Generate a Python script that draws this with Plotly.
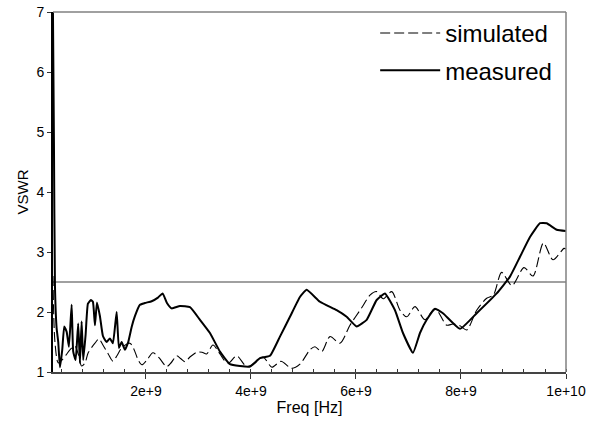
import plotly.graph_objects as go

# Frequencies in GHz (converted to Hz below)
meas_f_ghz = [0.229, 0.248, 0.267, 0.299, 0.33, 0.362, 0.406, 0.444, 0.49, 0.533,
              0.585, 0.615, 0.661, 0.71, 0.743, 0.775, 0.806, 0.851, 0.895, 0.952,
              0.99, 1.029, 1.067, 1.124, 1.181, 1.251, 1.314, 1.371, 1.442, 1.486,
              1.537, 1.6, 1.663, 1.728, 1.79, 1.886, 1.981, 2.109, 2.229, 2.318,
              2.4, 2.49, 2.648, 2.838, 3.029, 3.219, 3.41, 3.6, 3.79, 3.981,
              4.171, 4.362, 4.552, 4.743, 4.933, 5.061, 5.314, 5.632, 5.823, 6.013,
              6.204, 6.394, 6.552, 6.743, 6.895, 7.086, 7.219, 7.347, 7.505, 7.657,
              7.981, 8.299, 8.68, 8.933, 9.124, 9.314, 9.505, 9.632, 9.823, 10.0]
meas_vswr = [7.0, 4.8, 2.45, 1.73, 1.5, 1.08, 1.37, 1.76, 1.67, 1.42,
             2.12, 1.34, 1.2, 1.81, 1.15, 1.84, 1.2, 1.62, 2.14, 2.2,
             2.17, 1.78, 2.16, 1.93, 1.6, 1.5, 1.56, 1.48, 2.0, 1.4,
             1.5, 1.37, 1.5, 1.75, 1.93, 2.12, 2.15, 2.18, 2.24, 2.31,
             2.15, 2.06, 2.1, 2.08, 1.87, 1.65, 1.34, 1.13, 1.1, 1.09,
             1.23, 1.27, 1.59, 1.92, 2.25, 2.37, 2.17, 2.03, 1.92, 1.76,
             1.87, 2.2, 2.31, 2.03, 1.65, 1.32, 1.65, 1.87, 2.05, 1.98,
             1.72, 1.98, 2.31, 2.59, 2.92, 3.25, 3.48, 3.48, 3.37, 3.35]

sim_f_ghz = [0.229, 0.267, 0.33, 0.4, 0.476, 0.552, 0.648, 0.71, 0.775, 0.838,
             0.9, 1.029, 1.105, 1.181, 1.282, 1.371, 1.448, 1.537, 1.695, 1.771,
             1.853, 1.924, 2.019, 2.133, 2.248, 2.394, 2.476, 2.585, 2.667, 2.743,
             2.838, 2.966, 3.067, 3.156, 3.276, 3.41, 3.505, 3.581, 3.728, 3.918,
             4.076, 4.229, 4.4, 4.571, 4.775, 4.933, 5.124, 5.219, 5.347, 5.505,
             5.695, 5.886, 6.109, 6.267, 6.394, 6.52, 6.68, 6.838, 6.966, 7.124,
             7.314, 7.505, 7.728, 7.848, 7.981, 8.109, 8.299, 8.49, 8.615, 8.775,
             8.971, 9.2, 9.371, 9.571, 9.752, 9.962, 10.0]
sim_vswr = [2.6, 1.5, 1.15, 1.2, 1.28, 1.37, 1.43, 1.3, 1.1, 1.15,
            1.32, 1.48, 1.55, 1.45, 1.3, 1.18, 1.27, 1.4, 1.48, 1.38,
            1.2, 1.12, 1.2, 1.32, 1.24, 1.09, 1.15, 1.27, 1.22, 1.17,
            1.25, 1.33, 1.33, 1.3, 1.45, 1.3, 1.18, 1.15, 1.27, 1.09,
            1.15, 1.25, 1.08, 1.18, 1.06, 1.13, 1.37, 1.42, 1.34, 1.59,
            1.48, 1.78, 2.07, 2.28, 2.34, 2.22, 2.34, 2.03, 1.92, 2.09,
            1.87, 2.06, 1.78, 1.8, 1.77, 1.7, 2.03, 2.23, 2.28, 2.66,
            2.44, 2.74, 2.6, 3.15, 2.87, 3.06, 3.05]

limit_vswr = 2.5
x_range_ghz = [0.23, 10.0]
y_range = [1, 7]

meas_f = [v * 1e9 for v in meas_f_ghz]
sim_f = [v * 1e9 for v in sim_f_ghz]

fig = go.Figure()
fig.add_trace(go.Scatter(x=sim_f, y=sim_vswr, mode="lines", name="simulated",
                         legendgroup="a",
                         line=dict(color="black", width=1.1, dash="10px,4px",
                                   shape="spline", smoothing=0.8)))
fig.add_trace(go.Scatter(x=meas_f, y=meas_vswr, mode="lines", name="measured",
                         legendgroup="b",
                         line=dict(color="black", width=2, shape="spline", smoothing=0.4)))

# threshold line
fig.add_shape(type="line", xref="paper", x0=0, x1=1, yref="y", y0=limit_vswr, y1=limit_vswr,
              line=dict(color="#808080", width=1.5), layer="below")
# top and right frame
fig.add_shape(type="line", xref="paper", x0=0, x1=1, yref="paper", y0=1, y1=1,
              line=dict(color="#808080", width=1.5))
fig.add_shape(type="line", xref="paper", x0=1, x1=1, yref="paper", y0=0, y1=1,
              line=dict(color="#808080", width=1.5))

font = "Liberation Sans, Arial, sans-serif"
fig.update_layout(
    width=594, height=421,
    margin=dict(l=53, r=28, t=12, b=49, autoexpand=False),
    paper_bgcolor="white", plot_bgcolor="white",
    font=dict(family=font, color="black", size=14),
    showlegend=True,
    legend=dict(x=0.628, y=1.003, xanchor="left", yanchor="top",
                font=dict(size=24, family=font, color="black"),
                bgcolor="rgba(0,0,0,0)", itemwidth=60,
                tracegroupgap=3, traceorder="grouped"),
    xaxis=dict(range=[x_range_ghz[0] * 1e9, x_range_ghz[1] * 1e9],
               tick0=0, dtick=2e9, tickformat=".0e",
               ticks="outside", ticklen=5, tickcolor="#333", tickwidth=1,
               showline=True, linecolor="#444", linewidth=1.5,
               showgrid=False, zeroline=False, automargin=False,
               ticklabeloverflow="allow",
               tickfont=dict(size=14),
               minor=dict(tick0=0, dtick=4e8, ticks="inside", ticklen=3,
                          tickcolor="#333", showgrid=False),
               title=dict(text="Freq [Hz]", font=dict(size=16), standoff=3)),
    yaxis=dict(range=y_range, tick0=1, dtick=1,
               ticks="outside", ticklen=4, tickcolor="#333",
               showline=True, linecolor="black", linewidth=2,
               showgrid=False, zeroline=False, automargin=False,
               ticklabeloverflow="allow",
               tickfont=dict(size=14),
               title=dict(text="VSWR", font=dict(size=15), standoff=4)),
)

fig.write_html("out.html", config={"displayModeBar": False},
               post_script="document.body.style.margin='0';")
